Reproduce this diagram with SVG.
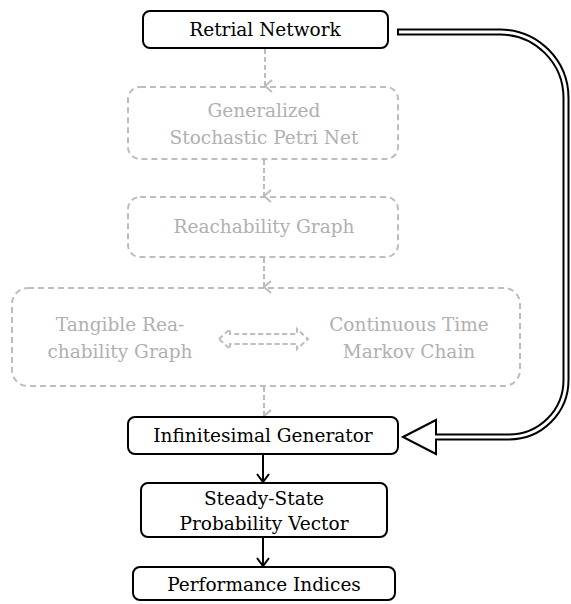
<svg xmlns="http://www.w3.org/2000/svg" width="571" height="604" viewBox="0 0 571 604">
<style>
.box{fill:#fff;stroke:#000;stroke-width:2}
.gbox{fill:none;stroke:#bdbdbd;stroke-width:2;stroke-dasharray:6 4}
.t{font-family:"DejaVu Serif","Liberation Serif",serif;font-size:18.5px;fill:#000;text-anchor:middle}
.g{fill:#b0b0b0}
.gl{fill:none;stroke:#bdbdbd;stroke-width:2;stroke-dasharray:5 3}
.bl{fill:none;stroke:#000;stroke-width:2}
</style>
<defs>
<marker id="ga" markerWidth="14" markerHeight="12" refX="7" refY="10" orient="auto" markerUnits="userSpaceOnUse" viewBox="0 0 14 12">
<path d="M1,3 L7,10 L13,3" fill="none" stroke="#bdbdbd" stroke-width="2"/>
</marker>
</defs>
<g id="connectors">
<path class="gl" d="M265,49 V86" marker-end="url(#ga)"/>
<path class="gl" d="M264,160 V196" marker-end="url(#ga)"/>
<path class="gl" d="M264,258 V287" marker-end="url(#ga)"/>
<path class="gl" d="M264,387 V416" marker-end="url(#ga)"/>
<path class="gl" d="M219,339 L230,329 L230,334 L297,334 L297,329 L308,339 L297,349 L297,344 L230,344 L230,349 Z" stroke-dasharray="5 3"/>
<path class="bl" d="M263,455 V482"/>
<path class="bl" d="M257,474 L263,482 L269,474"/>
<path class="bl" d="M263,537 V566"/>
<path class="bl" d="M257,558 L263,566 L269,558"/>
<g id="feedback">
<path d="M397,32 H500 A66,66 0 0 1 566,98 V380 A57,57 0 0 1 509,437 H434" fill="none" stroke="#000" stroke-width="7"/>
<path d="M403,437 L436,420 L436,454 Z" fill="#fff" stroke="#000" stroke-width="2" stroke-linejoin="miter"/>
<path d="M399,32 H500 A66,66 0 0 1 566,98 V380 A57,57 0 0 1 509,437 H432" fill="none" stroke="#fff" stroke-width="3"/>
</g>
</g>
<g id="retrial">
<rect class="box" x="143" y="11" width="245" height="37" rx="7"/>
<text class="t" x="265" y="36">Retrial Network</text>
</g>
<g id="gspn">
<rect class="gbox" x="128" y="87" width="270" height="72" rx="12"/>
<text class="t g" x="264" y="117">Generalized</text>
<text class="t g" x="264" y="144">Stochastic Petri Net</text>
</g>
<g id="reach">
<rect class="gbox" x="128" y="197" width="270" height="60" rx="12"/>
<text class="t g" x="264" y="233">Reachability Graph</text>
</g>
<g id="trg-ctmc">
<rect class="gbox" x="12" y="288" width="508" height="98" rx="16"/>
<text class="t g" x="120" y="331">Tangible Rea-</text>
<text class="t g" x="120" y="358">chability Graph</text>
<text class="t g" x="409" y="331">Continuous Time</text>
<text class="t g" x="409" y="358">Markov Chain</text>
</g>
<g id="infgen">
<rect class="box" x="128" y="417" width="270" height="37" rx="7"/>
<text class="t" x="263" y="442">Infinitesimal Generator</text>
</g>
<g id="steady">
<rect class="box" x="141" y="483" width="246" height="54" rx="7"/>
<text class="t" x="264" y="505">Steady-State</text>
<text class="t" x="264" y="530">Probability Vector</text>
</g>
<g id="perf">
<rect class="box" x="133" y="567" width="262" height="33" rx="7"/>
<text class="t" x="264" y="591">Performance Indices</text>
</g>
</svg>
